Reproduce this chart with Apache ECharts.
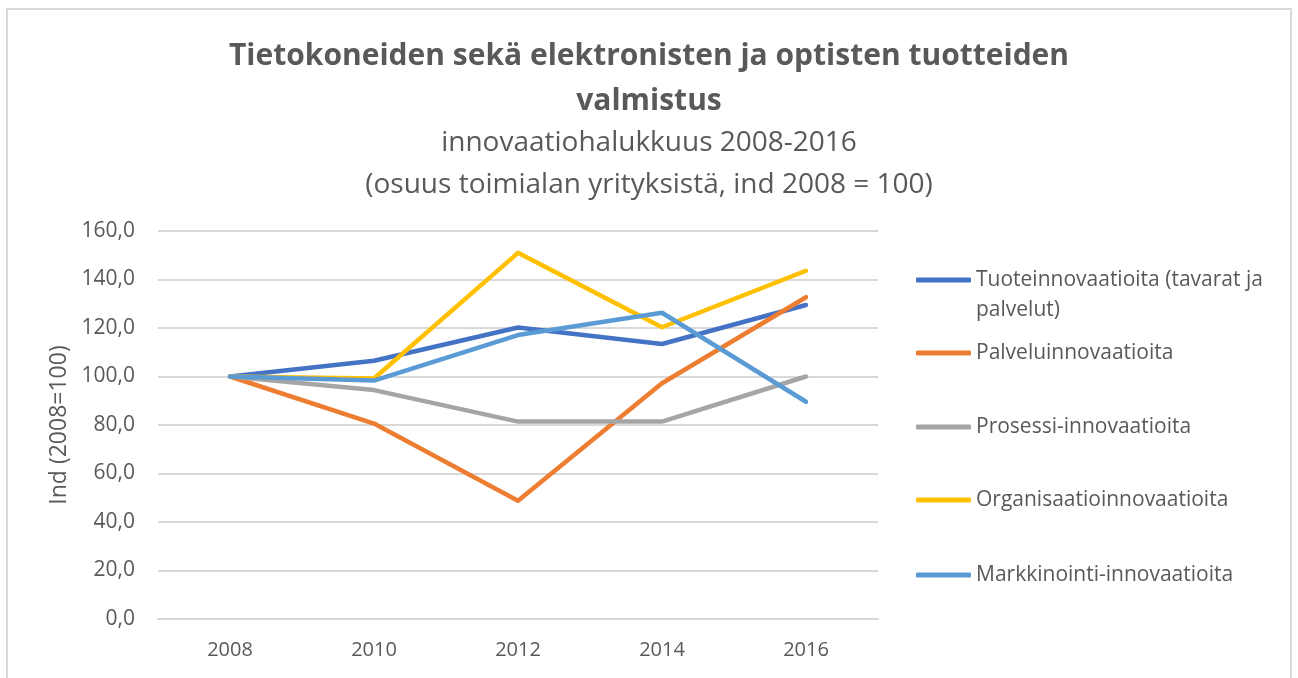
<!DOCTYPE html>
<html lang="fi">
<head>
<meta charset="utf-8">
<title>innovaatiohalukkuus</title>
<script src="https://cdn.jsdelivr.net/npm/echarts@6/dist/echarts.min.js"></script>
<style>
  body { margin: 0; background: #fff; }
  #chart { width: 1298px; height: 678px; }
</style>
</head>
<body>
<div id="chart"></div>
<script>
// vuodet ja indeksit (2008 = 100), luettu kuvasta
var years = ['2008', '2010', '2012', '2014', '2016'];
var tuote = [100, 106.5, 120.2, 113.4, 129.5];
var palvelu = [100, 80.6, 48.8, 97.2, 132.7];
var prosessi = [100, 94.4, 81.4, 81.4, 100];
var organisaatio = [100, 99.2, 151, 120.3, 143.6];
var markkinointi = [100, 98.3, 117.1, 126.3, 89.6];

var names = [
  'Tuoteinnovaatioita (tavarat ja palvelut)',
  'Palveluinnovaatioita',
  'Prosessi-innovaatioita',
  'Organisaatioinnovaatioita',
  'Markkinointi-innovaatioita'
];
var values = [tuote, palvelu, prosessi, organisaatio, markkinointi];
var colors = ['#4472C4', '#ED7D31', '#A5A5A5', '#FFC000', '#5B9BD5'];

var font = '"Open Sans", "Noto Sans", sans-serif';
var txt = '#595959';

// legenda: yksi komponentti per rivi, jotta välit menevät kuten Excelissä
var legendCenters = [279, 353, 427, 500, 575];
var legends = names.map(function (n, i) {
  var first = i === 0;
  return {
    data: [n],
    orient: 'vertical',
    left: 916,
    top: first ? legendCenters[i] - 44 : legendCenters[i] - 15,
    padding: 0,
    itemWidth: 55,
    itemHeight: 5,
    icon: 'roundRect',
    selectedMode: false,
    formatter: first ? function () { return '\nTuoteinnovaatioita (tavarat ja\npalvelut)'; } : '{name}',
    textStyle: { fontFamily: font, fontSize: 21, color: txt, lineHeight: 30 }
  };
});

var series = names.map(function (n, i) {
  return {
    name: n,
    type: 'line',
    data: values[i],
    symbol: 'none',
    color: colors[i],
    lineStyle: { width: 4.5, color: colors[i], cap: 'round', join: 'round' }
  };
});

var chart = echarts.init(document.getElementById('chart'));
chart.setOption({
  animation: false,
  title: {
    text: 'Tietokoneiden sekä elektronisten ja optisten tuotteiden\nvalmistus',
    subtext: 'innovaatiohalukkuus 2008-2016\n(osuus toimialan yrityksistä, ind 2008 = 100)',
    left: 'center',
    top: 34,
    padding: 0,
    itemGap: -2,
    textStyle: { fontFamily: font, fontSize: 30, fontWeight: 'bold', color: txt, lineHeight: 45 },
    subtextStyle: { fontFamily: font, fontSize: 28, color: txt, lineHeight: 42 }
  },
  legend: legends,
  grid: { left: 158, right: 420, top: 231, bottom: 59 },
  xAxis: {
    type: 'category',
    data: years,
    boundaryGap: true,
    axisLine: { lineStyle: { color: '#d9d9d9', width: 2 } },
    axisTick: { show: false },
    axisLabel: { fontFamily: font, fontSize: 20, color: txt, margin: 21 }
  },
  yAxis: {
    type: 'value',
    min: 0,
    max: 160,
    interval: 20,
    name: 'Ind (2008=100)',
    nameLocation: 'middle',
    nameGap: 86,
    nameTextStyle: { fontFamily: font, fontSize: 23, color: txt },
    axisLine: { show: false },
    axisTick: { show: false },
    splitLine: { lineStyle: { color: '#d9d9d9', width: 2 } },
    axisLabel: {
      fontFamily: font, fontSize: 21, color: txt, margin: 23,
      formatter: function (v) { return v.toFixed(1).replace('.', ','); }
    }
  },
  graphic: [{
    type: 'rect',
    silent: true,
    z: -1,
    shape: { x: 7, y: 9, width: 1284, height: 720 },
    style: { fill: null, stroke: '#d9d9d9', lineWidth: 2 }
  }],
  series: series
});
</script>
</body>
</html>
